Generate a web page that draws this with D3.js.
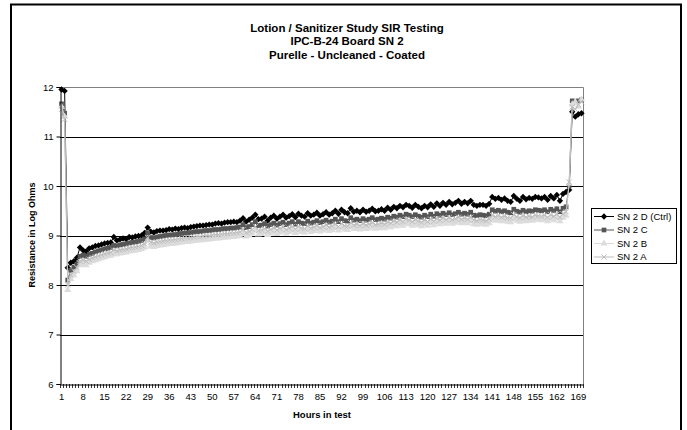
<!DOCTYPE html>
<html>
<head>
<meta charset="utf-8">
<script src="https://cdn.jsdelivr.net/npm/d3@7/dist/d3.min.js"></script>
<style>
  body { margin: 0; background: #fff; }
  svg { font-family: "Liberation Sans", Arial, sans-serif; }
</style>
</head>
<body>
<div id="chart"></div>
<script>
// hours 1..170 on the category axis
var hours = d3.range(1, 171);
var tickLabels = [1, 8, 15, 22, 29, 36, 43, 50, 57, 64, 71, 78, 85, 92, 99, 106, 113, 120, 127, 134, 141, 148, 155, 162, 169];
var yTicks = [6, 7, 8, 9, 10, 11, 12];
var titleLines = ["Lotion / Sanitizer Study SIR Testing", "IPC-B-24 Board SN 2", "Purelle - Uncleaned - Coated"];
var seriesNames = ["SN 2 D (Ctrl)", "SN 2 C", "SN 2 B", "SN 2 A"];

var sn2D = [
  11.95, 11.92, 8.35, 8.45, 8.48, 8.55, 8.76, 8.70, 8.68, 8.74,
  8.76, 8.79, 8.80, 8.82, 8.84, 8.85, 8.86, 8.97, 8.90, 8.92,
  8.94, 8.93, 8.97, 8.96, 8.98, 8.99, 9.00, 9.05, 9.16, 9.08,
  9.06, 9.09, 9.10, 9.10, 9.11, 9.13, 9.12, 9.14, 9.13, 9.15,
  9.16, 9.15, 9.17, 9.18, 9.19, 9.20, 9.20, 9.21, 9.22, 9.22,
  9.24, 9.25, 9.24, 9.26, 9.27, 9.27, 9.28, 9.27, 9.30, 9.35,
  9.28, 9.32, 9.36, 9.42, 9.33, 9.34, 9.38, 9.30, 9.36, 9.40,
  9.34, 9.38, 9.42, 9.36, 9.39, 9.43, 9.37, 9.44, 9.40, 9.38,
  9.45, 9.40, 9.42, 9.46, 9.40, 9.43, 9.47, 9.42, 9.45, 9.50,
  9.44, 9.52, 9.47, 9.45, 9.55, 9.48, 9.50, 9.47, 9.52, 9.48,
  9.50, 9.54, 9.49, 9.50, 9.53, 9.50, 9.56, 9.52, 9.58, 9.55,
  9.60, 9.57, 9.62, 9.60, 9.56, 9.62, 9.58, 9.55, 9.60, 9.57,
  9.63, 9.58, 9.65, 9.60, 9.66, 9.62, 9.68, 9.63, 9.66, 9.70,
  9.64, 9.68, 9.65, 9.70, 9.62, 9.60, 9.62, 9.62, 9.60, 9.64,
  9.78, 9.74, 9.76, 9.72, 9.75, 9.70, 9.68, 9.80, 9.74, 9.70,
  9.78, 9.73, 9.76, 9.74, 9.78, 9.77, 9.75, 9.78, 9.72, 9.80,
  9.75, 9.82, 9.70, 9.84, 9.88, 9.92, 11.50, 11.40, 11.45, 11.47
];
var sn2C = [
  11.66, 11.47, 8.10, 8.30, 8.36, 8.42, 8.58, 8.60, 8.58, 8.62,
  8.64, 8.67, 8.69, 8.71, 8.73, 8.74, 8.76, 8.80, 8.79, 8.81,
  8.82, 8.83, 8.85, 8.86, 8.87, 8.88, 8.90, 8.93, 9.05, 8.96,
  8.95, 8.97, 8.98, 8.99, 9.00, 9.01, 9.01, 9.02, 9.03, 9.04,
  9.05, 9.05, 9.06, 9.07, 9.08, 9.08, 9.09, 9.10, 9.10, 9.11,
  9.12, 9.12, 9.13, 9.14, 9.14, 9.15, 9.15, 9.16, 9.17, 9.22,
  9.16, 9.18, 9.22, 9.28, 9.20, 9.21, 9.24, 9.19, 9.22, 9.25,
  9.21, 9.24, 9.27, 9.22, 9.25, 9.28, 9.23, 9.28, 9.25, 9.24,
  9.29, 9.25, 9.27, 9.30, 9.26, 9.28, 9.31, 9.27, 9.29, 9.33,
  9.28, 9.34, 9.30, 9.29, 9.36, 9.31, 9.33, 9.30, 9.34, 9.31,
  9.33, 9.36, 9.32, 9.33, 9.35, 9.33, 9.37, 9.35, 9.39, 9.37,
  9.41, 9.38, 9.43, 9.41, 9.38, 9.42, 9.39, 9.37, 9.41, 9.38,
  9.43, 9.39, 9.44, 9.41, 9.45, 9.42, 9.46, 9.42, 9.44, 9.47,
  9.43, 9.45, 9.43, 9.47, 9.41, 9.40, 9.42, 9.41, 9.40, 9.43,
  9.52, 9.49, 9.51, 9.48, 9.50, 9.47, 9.46, 9.53, 9.49, 9.47,
  9.51, 9.48, 9.50, 9.49, 9.52, 9.51, 9.50, 9.52, 9.48, 9.53,
  9.50, 9.54, 9.48, 9.55, 9.58, 10.00, 11.72, 11.70, 11.72, 11.74
];
var sn2B = [
  11.60, 11.40, 7.90, 8.12, 8.20, 8.28, 8.40, 8.42, 8.40, 8.45,
  8.48, 8.50, 8.52, 8.54, 8.56, 8.58, 8.59, 8.62, 8.62, 8.64,
  8.65, 8.66, 8.68, 8.69, 8.70, 8.71, 8.73, 8.76, 8.90, 8.78,
  8.77, 8.79, 8.80, 8.81, 8.82, 8.83, 8.83, 8.84, 8.85, 8.86,
  8.87, 8.87, 8.88, 8.89, 8.90, 8.90, 8.91, 8.92, 8.92, 8.93,
  8.94, 8.94, 8.95, 8.96, 8.96, 8.97, 8.97, 8.98, 8.99, 9.04,
  8.98, 9.00, 9.04, 9.10, 9.02, 9.03, 9.06, 9.01, 9.04, 9.07,
  9.03, 9.06, 9.09, 9.04, 9.07, 9.10, 9.05, 9.10, 9.07, 9.06,
  9.11, 9.07, 9.09, 9.12, 9.08, 9.10, 9.13, 9.09, 9.11, 9.15,
  9.10, 9.16, 9.12, 9.11, 9.18, 9.13, 9.15, 9.12, 9.16, 9.13,
  9.15, 9.18, 9.14, 9.15, 9.17, 9.15, 9.19, 9.17, 9.21, 9.19,
  9.23, 9.20, 9.25, 9.23, 9.20, 9.24, 9.21, 9.19, 9.23, 9.20,
  9.25, 9.21, 9.26, 9.23, 9.27, 9.24, 9.28, 9.24, 9.26, 9.29,
  9.25, 9.27, 9.25, 9.29, 9.23, 9.22, 9.24, 9.23, 9.22, 9.25,
  9.33, 9.30, 9.32, 9.29, 9.31, 9.28, 9.27, 9.34, 9.30, 9.28,
  9.32, 9.29, 9.31, 9.30, 9.33, 9.32, 9.31, 9.33, 9.29, 9.34,
  9.31, 9.35, 9.29, 9.36, 9.40, 10.05, 11.65, 11.70, 11.60, 11.75
];
var sn2A = [
  11.55, 11.35, 8.00, 8.20, 8.28, 8.35, 8.48, 8.50, 8.48, 8.52,
  8.55, 8.57, 8.59, 8.61, 8.63, 8.65, 8.66, 8.70, 8.69, 8.71,
  8.72, 8.73, 8.75, 8.76, 8.77, 8.78, 8.80, 8.83, 8.96, 8.86,
  8.85, 8.87, 8.88, 8.89, 8.90, 8.91, 8.91, 8.92, 8.93, 8.94,
  8.95, 8.95, 8.96, 8.97, 8.98, 8.98, 8.99, 9.00, 9.00, 9.01,
  9.02, 9.02, 9.03, 9.04, 9.04, 9.05, 9.05, 9.06, 9.07, 9.12,
  9.06, 9.08, 9.12, 9.18, 9.10, 9.11, 9.14, 9.09, 9.12, 9.15,
  9.11, 9.14, 9.17, 9.12, 9.15, 9.18, 9.13, 9.18, 9.15, 9.14,
  9.19, 9.15, 9.17, 9.20, 9.16, 9.18, 9.21, 9.17, 9.19, 9.23,
  9.18, 9.24, 9.20, 9.19, 9.26, 9.21, 9.23, 9.20, 9.24, 9.21,
  9.23, 9.26, 9.22, 9.23, 9.25, 9.23, 9.27, 9.25, 9.29, 9.27,
  9.31, 9.28, 9.33, 9.31, 9.28, 9.32, 9.29, 9.27, 9.31, 9.28,
  9.33, 9.29, 9.34, 9.31, 9.35, 9.32, 9.36, 9.32, 9.34, 9.37,
  9.33, 9.35, 9.33, 9.37, 9.31, 9.30, 9.32, 9.31, 9.30, 9.33,
  9.41, 9.38, 9.40, 9.37, 9.39, 9.36, 9.35, 9.42, 9.38, 9.36,
  9.40, 9.37, 9.39, 9.38, 9.41, 9.40, 9.39, 9.41, 9.37, 9.42,
  9.39, 9.43, 9.37, 9.44, 9.48, 10.08, 11.60, 11.55, 11.65, 11.70
];

var W = 687, H = 430;
var plot = {left: 60, right: 583, top: 87, bottom: 384};

var svg = d3.select("#chart").append("svg")
    .attr("width", W)
    .attr("height", H);

//outer chart frame (bottom edge runs off the page)
svg.append("rect")
    .attr("x", 11).attr("y", 4.5)
    .attr("width", 670).attr("height", 460)
    .attr("fill", "#fff")
    .attr("stroke", "#000")
    .attr("stroke-width", 2);

//title
svg.append("g")
    .attr("font-size", "11.5px")
    .attr("font-weight", "bold")
    .attr("text-anchor", "middle")
    .selectAll("text")
    .data(titleLines)
    .enter().append("text")
    .attr("x", 347)
    .attr("y", function(d, i) { return 31.5 + i * 13.5; })
    .text(function(d) { return d; });

var x = d3.scaleBand()
    .domain(hours)
    .range([plot.left, plot.right])
    .padding(0);

var y = d3.scaleLinear()
    .domain([6, 12])
    .range([plot.bottom, plot.top]);

function cx(h) { return x(h) + x.bandwidth() / 2; }

//gridlines
svg.append("g")
    .selectAll("line")
    .data(yTicks.filter(function(d) { return d > 6 && d < 12; }))
    .enter().append("line")
    .attr("x1", plot.left).attr("x2", plot.right)
    .attr("y1", function(d) { return Math.round(y(d)) + 0.5; })
    .attr("y2", function(d) { return Math.round(y(d)) + 0.5; })
    .attr("stroke", "#000")
    .attr("stroke-width", 1);

//plot area border (top / right in gray)
svg.append("path")
    .attr("d", "M" + plot.left + "," + (plot.top + 0.5) + "H" + (plot.right + 0.5) + "V" + plot.bottom)
    .attr("fill", "none")
    .attr("stroke", "#808080");

//series
var series = [
    {name: seriesNames[0], values: sn2D, color: "#000", marker: "diamond"},
    {name: seriesNames[1], values: sn2C, color: "#555", marker: "square"},
    {name: seriesNames[2], values: sn2B, color: "#dcdcdc", marker: "triangle"},
    {name: seriesNames[3], values: sn2A, color: "#bdbdbd", marker: "x"}
];

var line = d3.line()
    .x(function(d, i) { return cx(hours[i]); })
    .y(function(d) { return y(d); });

//append one marker shape into a (translated) group
function marker(g, type, color) {
    if (type == "diamond") {
        g.append("path").attr("d", d3.symbol(d3.symbolSquare, 20)())
         .attr("transform", "rotate(45)")
         .attr("fill", color);
    } else if (type == "square") {
        g.append("path").attr("d", d3.symbol(d3.symbolSquare, 22)())
         .attr("fill", color);
    } else if (type == "triangle") {
        g.append("path").attr("d", d3.symbol(d3.symbolTriangle, 22)())
         .attr("fill", color);
    } else {
        g.append("path").attr("d", d3.symbol(d3.symbolX, 20)())
         .attr("fill", "none")
         .attr("stroke", color)
         .attr("stroke-width", 1);
    }
}

series.forEach(function(s) {
    var g = svg.append("g");
    g.append("path")
     .datum(s.values)
     .attr("d", line)
     .attr("fill", "none")
     .attr("stroke", s.color)
     .attr("stroke-width", 1);

    g.selectAll("g.pt")
     .data(s.values)
     .enter().append("g")
     .attr("class", "pt")
     .attr("transform", function(d, i) { return "translate(" + cx(hours[i]) + "," + y(d) + ")"; })
     .each(function() { marker(d3.select(this), s.marker, s.color); });
});

//y axis
var yAxis = d3.axisLeft(y)
    .tickValues(yTicks)
    .tickSize(4)
    .tickPadding(3)
    .tickFormat(d3.format("d"));

svg.append("g")
    .attr("transform", "translate(" + (plot.left + 0.5) + ",0)")
    .call(yAxis)
    .call(function(g) {
        g.select(".domain").attr("stroke", "#000");
        g.selectAll(".tick line").attr("stroke", "#000");
        g.selectAll("text")
         .attr("font-family", "Liberation Sans, Arial, sans-serif")
         .attr("font-size", "9.5px")
         .attr("fill", "#000");
    });

//x axis labels
var xAxis = d3.axisBottom(x)
    .tickValues(tickLabels)
    .tickSize(0)
    .tickPadding(9);

svg.append("g")
    .attr("transform", "translate(0," + (plot.bottom + 0.5) + ")")
    .call(xAxis)
    .call(function(g) {
        g.select(".domain").attr("stroke", "#000");
        g.selectAll("text")
         .attr("font-family", "Liberation Sans, Arial, sans-serif")
         .attr("font-size", "9.5px")
         .attr("fill", "#000");
    });

//x ticks between categories
svg.append("g")
    .selectAll("line")
    .data(hours.concat([171]))
    .enter().append("line")
    .attr("x1", function(d) { return (d == 171 ? plot.right : Math.round(x(d))) + 0.5; })
    .attr("x2", function(d) { return (d == 171 ? plot.right : Math.round(x(d))) + 0.5; })
    .attr("y1", plot.bottom)
    .attr("y2", plot.bottom + 4)
    .attr("stroke", "#000")
    .attr("stroke-width", 0.8);

//axis titles
svg.append("text")
    .attr("x", 322).attr("y", 418)
    .attr("text-anchor", "middle")
    .attr("font-size", "9.5px")
    .attr("font-weight", "bold")
    .text("Hours in test");

svg.append("text")
    .attr("transform", "translate(35,235) rotate(-90)")
    .attr("text-anchor", "middle")
    .attr("font-size", "9px")
    .attr("font-weight", "bold")
    .text("Resistance in Log Ohms");

//legend
var legend = svg.append("g").attr("transform", "translate(591,208)");
legend.append("rect")
    .attr("x", 0.5).attr("y", 0.5)
    .attr("width", 85).attr("height", 55)
    .attr("fill", "#fff")
    .attr("stroke", "#000");

var item = legend.selectAll("g.item")
    .data(series)
    .enter().append("g")
    .attr("class", "item")
    .attr("transform", function(d, i) { return "translate(0," + (8.5 + i * 13.5) + ")"; });

item.append("line")
    .attr("x1", 3).attr("x2", 23)
    .attr("stroke", function(d) { return d.color; })
    .attr("stroke-width", 1);

item.each(function(d) {
    marker(d3.select(this).append("g").attr("transform", "translate(13,0)"), d.marker, d.color);
});

item.append("text")
    .attr("x", 26).attr("y", 0)
    .attr("dy", "0.35em")
    .attr("font-size", "9.5px")
    .text(function(d) { return d.name; });
</script>
</body>
</html>
